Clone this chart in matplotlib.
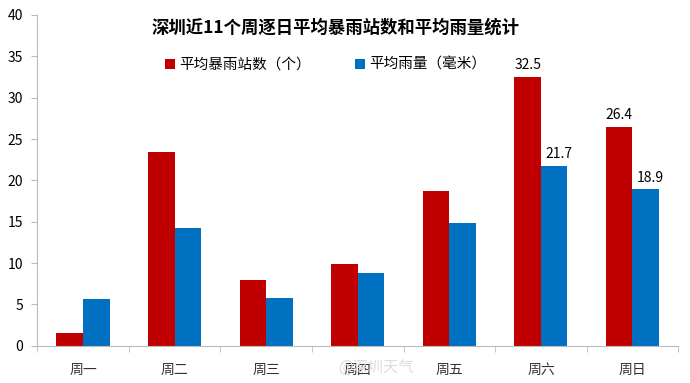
import matplotlib.pyplot as plt
import numpy as np

plt.rcParams['font.family'] = ['Noto Sans CJK SC', 'DejaVu Sans']

days = ['周一', '周二', '周三', '周四', '周五', '周六', '周日']
stations = [1.6, 23.4, 7.9, 9.9, 18.7, 32.5, 26.4]
rainfall = [5.7, 14.3, 5.8, 8.8, 14.9, 21.7, 18.9]
# only the weekend bars carry value labels
labeled = [5, 6]

red = '#C00000'
blue = '#0070C0'

fig = plt.figure(figsize=(6.9, 3.83), dpi=100)
ax = fig.add_axes([0.054, 0.097, 0.929, 0.864])

x = np.arange(len(days))
w = 0.29
b1 = ax.bar(x - w / 2, stations, w, color=red, label='平均暴雨站数（个）')
b2 = ax.bar(x + w / 2, rainfall, w, color=blue, label='平均雨量（毫米）')

for i in labeled:
    ax.text(x[i] - w / 2, stations[i] + 0.6, f'{stations[i]:.1f}', ha='center', va='bottom', fontsize=10)
    ax.text(x[i] + w / 2 + 0.05, rainfall[i] + 0.6, f'{rainfall[i]:.1f}', ha='center', va='bottom', fontsize=10)

ax.set_xlim(-0.5, len(days) - 0.5)
ax.set_ylim(0, 40)
ax.set_yticks(range(0, 41, 5))
ax.set_xticks(x)
ax.set_xticklabels(days, fontsize=10, color='#333333')
ax.set_xticks(np.arange(-0.5, len(days), 1), minor=True)
ax.tick_params(axis='x', which='major', length=0, pad=12)
ax.tick_params(axis='x', which='minor', length=4, color='#BBBBBB')
ax.tick_params(axis='y', length=4, color='#BBBBBB', labelsize=10, pad=6)

for s in ['top', 'right']:
    ax.spines[s].set_visible(False)
for s in ['left', 'bottom']:
    ax.spines[s].set_color('#BBBBBB')

ax.text(0.465, 0.99, '深圳近11个周逐日平均暴雨站数和平均雨量统计', transform=ax.transAxes,
        ha='center', va='top', fontsize=12.5, fontweight='bold')
ax.legend(loc='upper center', bbox_to_anchor=(0.45, 0.91), ncol=2, frameon=False,
          fontsize=10.5, handlelength=0.7, handleheight=0.7, handletextpad=0.3, columnspacing=3.0)

fig.text(0.545, 0.04, '@深圳天气', ha='center', va='center', fontsize=11, color='#DDDDDD')

fig.savefig('out.png', dpi=100)
